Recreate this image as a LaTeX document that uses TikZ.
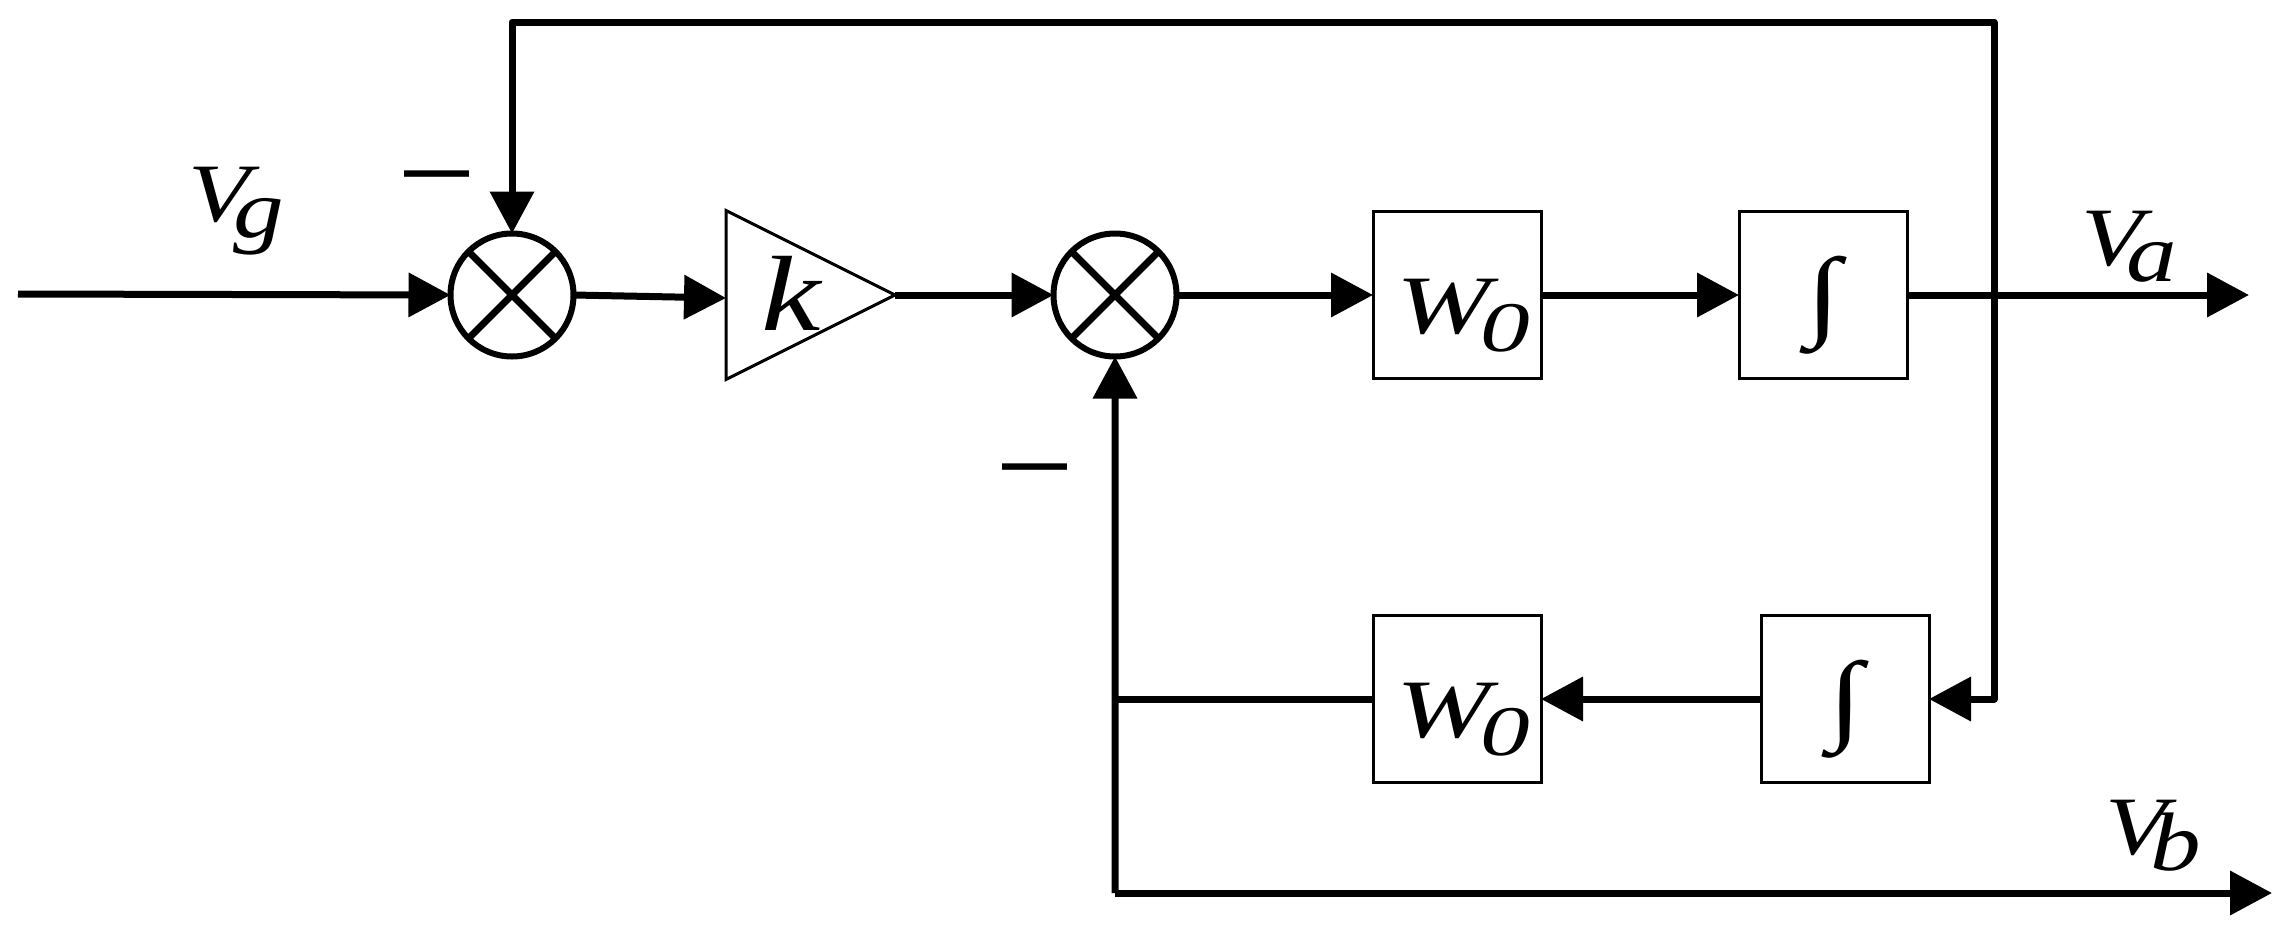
\documentclass[tikz,border=0pt]{standalone}
\usepackage{fontspec}
\setmainfont{Liberation Serif}
\newfontfamily\dashfont{Liberation Sans}
\usetikzlibrary{arrows.meta}
\usetikzlibrary{positioning, calc}
\usetikzlibrary{shapes.geometric}
\tikzstyle{block} = [draw,rectangle,line width=3pt,minimum height=167pt,minimum width=168pt,inner sep=0pt,outer sep=0pt]
\tikzstyle{summer} = [draw,circle,line width=6pt,minimum size=123pt,inner sep=0pt,outer sep=0pt]
\tikzstyle{gain} = [draw,isosceles triangle,isosceles triangle apex angle=53.13,isosceles triangle stretches,line width=3pt,minimum height=169pt,minimum width=169pt,inner sep=0pt,outer sep=0pt]
\tikzstyle{connector} = [-{Triangle[length=42pt,width=43pt]},line width=7pt,line join=round]
\tikzstyle{wire} = [line width=7pt,line join=round]
\tikzstyle{cross} = [line width=7pt]
\tikzstyle{label} = [inner sep=0pt,outer sep=0pt,font=\fontsize{83}{90}\selectfont\itshape]
\tikzstyle{minus} = [inner sep=0pt,outer sep=0pt,font=\fontsize{65}{70}\selectfont\dashfont\bfseries]
\newcommand{\sublabel}[2]{\scalebox{1.22}[1]{#1\kern-14pt\raisebox{-16pt}{#2}}}
\newcommand{\gainlabel}{\scalebox{1.36}[1]{W}\kern-10pt\raisebox{-18pt}{\fontsize{71}{71}\selectfont\scalebox{1.4}[1]{0}}}
\newcommand{\intlabel}{\scalebox{1.25}[1]{\fontsize{100}{100}\selectfont\upshape ∫}}
\begin{document}
\begin{tikzpicture}[x=1pt,y=-1pt]
	\useasboundingbox (0,0) rectangle (2294,932);

	\node[summer] (sum1) at (512,295) {};
	\node[gain, right = 152.5pt of sum1] (k) {};
	\node[summer, right = 158.5pt of k] (sum2) {};
	\node[block, right = 196.5pt of sum2] (w1) {};
	\node[block, right = 198pt of w1] (int1) {};
	\node[block, below = 237pt of w1] (w2) {};
	\node[block, right = 220pt of w2] (int2) {};

	% texts of the nodes
	\node[label] (klabel) at (791,330) [anchor=base] {\fontsize{107}{107}\selectfont\scalebox{1.25}[1]{k}};
	\node[label] (w1label) at ($(w1)+(6,38)$) [anchor=base] {\gainlabel};
	\node[label] (w2label) at ($(w2)+(6,38)$) [anchor=base] {\gainlabel};
	\node[label] (int1label) at ($(int1)+(1,10)$) {\intlabel};
	\node[label] (int2label) at ($(int2)+(1,10)$) {\intlabel};

	\node[label] (vg) at (236,211) {\sublabel{V}{g}};
	\node[label] (va) at (2129,247) {\sublabel{V}{a}};
	\node[label] (vb) at (2153,836) {\sublabel{V}{b}};
	\node[minus] (minus1) at (437,181) {—};
	\node[minus] (minus2) at (1035,474) {—};

	\coordinate (in) at (18,294);
	\coordinate (outa) at (2249,295);
	\coordinate (tap) at (1994,295);
	\coordinate (top) at (512,22);
	\coordinate (corner) at (1115,893);
	\coordinate (outb) at (2272,893);

	% crosses of the summers
	\foreach \s in {sum1,sum2} {
		\draw[cross] (\s.45) -- (\s.225);
		\draw[cross] (\s.135) -- (\s.315);
	}

	% now link the nodes
	\draw [connector] (in) -- (sum1.west);
	\draw [connector] (sum1.east) -- ($(k.west)+(0,3)$);
	\draw [connector] (k.east) -- (sum2.west);
	\draw [connector] (sum2.east) -- (w1.west);
	\draw [connector] (w1.east) -- (int1.west);
	\draw [connector] (int1.east) -- (outa);
	\draw [connector] (tap) -- (top -| tap) -- (top) -- (sum1.north);
	\draw [connector] (tap) |- (int2.east);
	\draw [connector] (int2.west) -- (w2.east);
	\draw [wire] (w2.west) -- (w2.west -| sum2);
	\draw [connector] (corner) -- (sum2.south);
	\draw [connector] (corner) -- (outb);
\end{tikzpicture}
\end{document}
